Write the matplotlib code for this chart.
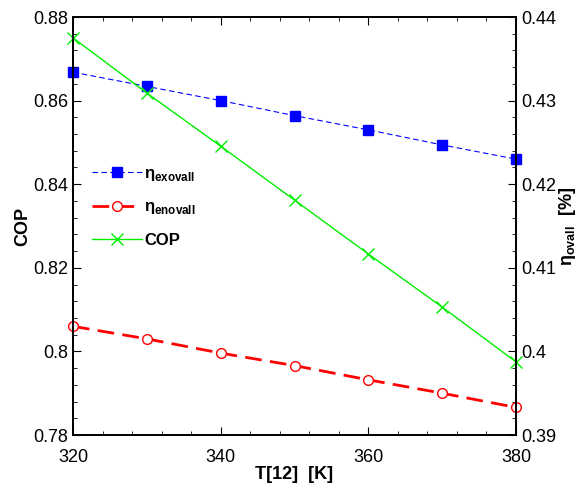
import numpy as np
import matplotlib.pyplot as plt
from matplotlib.ticker import MultipleLocator

plt.rcParams['font.family'] = ['Liberation Sans', 'DejaVu Sans']
plt.rcParams['mathtext.fontset'] = 'custom'
plt.rcParams['mathtext.rm'] = 'Liberation Sans'
plt.rcParams['mathtext.bf'] = 'Liberation Sans:bold'

T12 = [320, 330, 340, 350, 360, 370, 380]
cop = [0.875, 0.8618, 0.8491, 0.8362, 0.8233, 0.8106, 0.7975]
eta_exovall = [0.4334, 0.4317, 0.4300, 0.4282, 0.4265, 0.4247, 0.4230]
eta_enovall = [0.4030, 0.4015, 0.3998, 0.3983, 0.3966, 0.3950, 0.3933]

fig = plt.figure(figsize=(5.78, 4.86), dpi=100)
ax = fig.add_axes([73/578, 1 - 435/486, (516 - 73)/578, (435 - 17)/486])
ax2 = ax.twinx()

l1, = ax2.plot(T12, eta_exovall, color='blue', ls=(0, (5, 3)), lw=0.8,
               marker='s', ms=7, mfc='blue', mec='blue', clip_on=False,
               label=r'$\mathbf{\eta}_{\mathbf{exovall}}$')
l2, = ax2.plot(T12, eta_enovall, color='red', ls=(0, (6, 3)), lw=2,
               marker='o', ms=7, mfc='white', mec='red', mew=1, clip_on=False,
               label=r'$\mathbf{\eta}_{\mathbf{enovall}}$')
l3, = ax.plot(T12, cop, color='#00ee00', lw=1, marker='x', ms=9,
              clip_on=False, label='COP')
ax.set_zorder(ax2.get_zorder() + 1)
ax.patch.set_visible(False)

ax.set_xlim(320, 380)
ax.set_ylim(0.78, 0.88)
ax2.set_ylim(0.39, 0.44)

ax.xaxis.set_major_locator(MultipleLocator(20))
ax.xaxis.set_minor_locator(MultipleLocator(4))
ax.yaxis.set_minor_locator(MultipleLocator(0.004))
ax2.yaxis.set_minor_locator(MultipleLocator(0.002))

ax.set_yticks([0.78, 0.8, 0.82, 0.84, 0.86, 0.88])
ax.set_yticklabels(['0.78', '0.8', '0.82', '0.84', '0.86', '0.88'])
ax2.set_yticks([0.39, 0.4, 0.41, 0.42, 0.43, 0.44])
ax2.set_yticklabels(['0.39', '0.4', '0.41', '0.42', '0.43', '0.44'])

ax.tick_params(which='both', direction='in', top=True, labelsize=13)
ax.tick_params(which='major', length=6)
ax.tick_params(which='minor', length=3)
ax.tick_params(axis='x', which='major', pad=10)
ax2.tick_params(which='both', direction='in', labelsize=13)
ax2.tick_params(which='major', length=6)
ax2.tick_params(which='minor', length=3)
for a in (ax, ax2):
    for s in a.spines.values():
        s.set_linewidth(1.3)

ax.set_xlabel('T[12]  [K]', fontsize=13, fontweight='bold', labelpad=0)
ax.set_ylabel('COP', fontsize=13, fontweight='bold', labelpad=1)
ax2.set_ylabel(r'$\mathbf{\eta}_{\mathbf{ovall}}$  [%]', fontsize=13,
               fontweight='bold', labelpad=1)

ax.legend(handles=[l1, l2, l3], loc='upper left', bbox_to_anchor=(0.01, 0.68),
          frameon=False, prop={'size': 12, 'weight': 'bold'},
          handlelength=3.0, labelspacing=1.0, handletextpad=0.1)

fig.savefig('out.png', dpi=100)
